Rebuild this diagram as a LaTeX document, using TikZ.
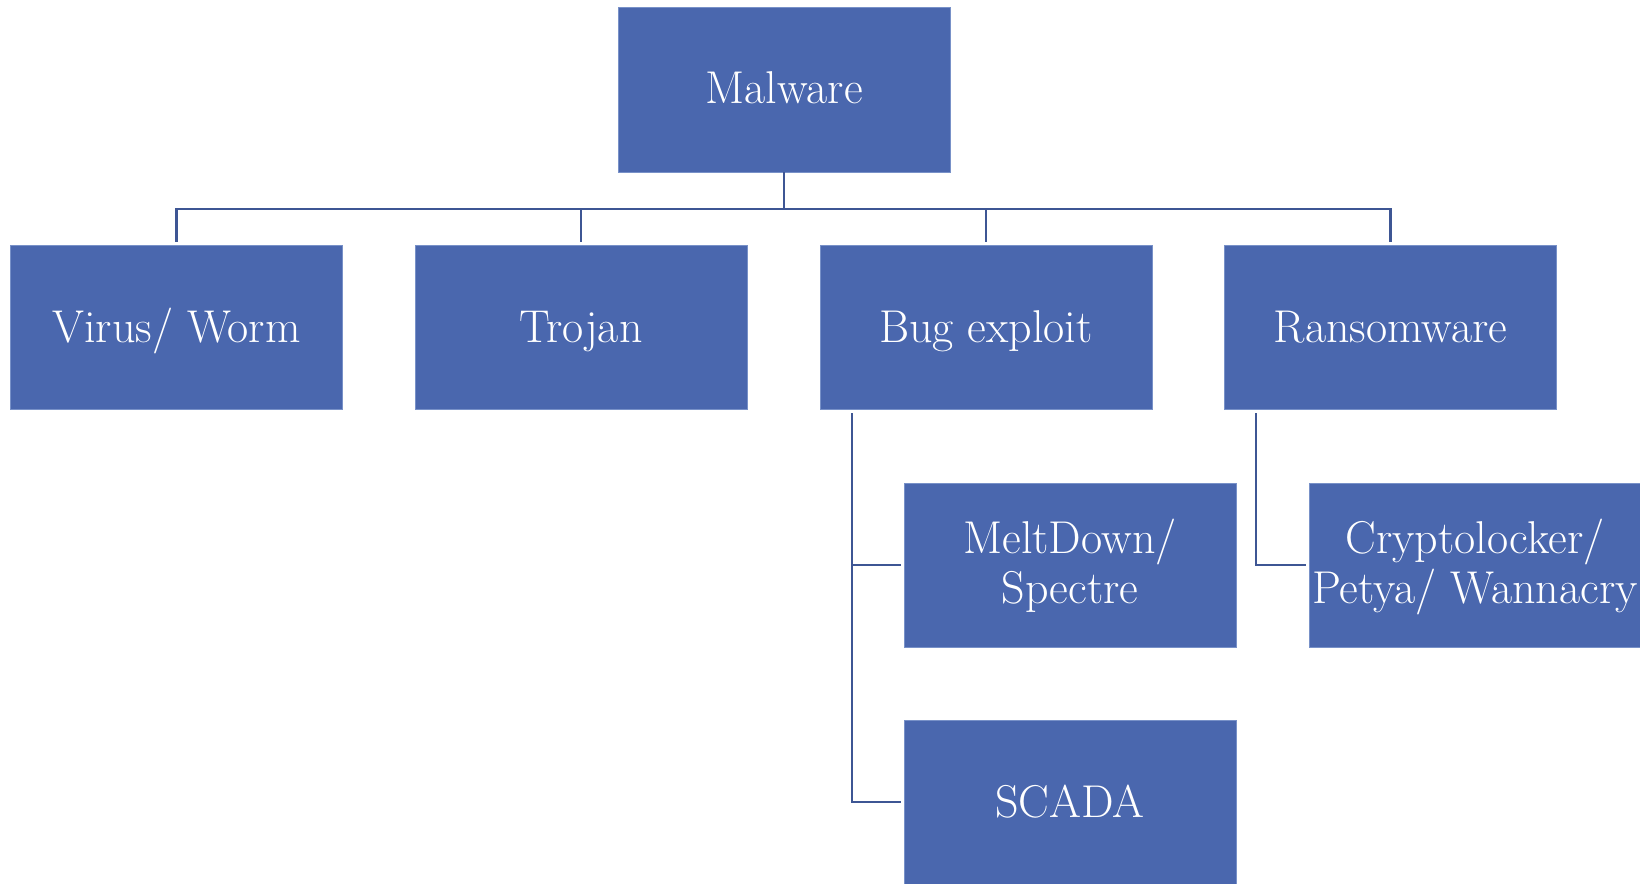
\documentclass[tikz,border=0pt]{standalone}
\usepackage{tikz}
\definecolor{boxblue}{RGB}{74,103,174}
\definecolor{boxedge}{RGB}{120,145,200}
\definecolor{linkblue}{RGB}{62,86,148}
\tikzset{
  catbox/.style={rectangle, fill=boxblue, draw=boxedge, line width=0.8pt,
    minimum width=332pt, minimum height=164pt, inner sep=0pt,
    text=white, align=center, font=\fontsize{46}{50}\selectfont,
    text height=30pt, text depth=0pt},
  % the box baseline of a two-line label sits on its last line
  twoline/.style={text height=80pt, text depth=4pt},
  link/.style={draw=linkblue, line width=2.6pt},
  sublink/.style={draw=linkblue, line width=2.2pt, shorten >=3pt}
}
\begin{document}
\begin{tikzpicture}[x=1pt, y=-1pt]
\useasboundingbox (0,0) rectangle (1640,883);
\fill[white] (0,0) rectangle (1640,883);

% top level
\node[catbox, minimum height=165pt, text height=27pt] (malware) at (784,89.5) {Malware};

% categories
\node[catbox] (virus)  at (176.5,327) {Virus/ Worm};
\node[catbox] (trojan) at (581,327)   {Trojan};
\node[catbox] (bug)    at (986,327)   {Bug exploit};
\node[catbox] (ransom) at (1390.5,327) {Ransomware};

% examples
\node[catbox, twoline] (melt)   at (1070,565)  {MeltDown/\\Spectre};
\node[catbox] (scada)  at (1070,802)  {SCADA};
\node[catbox, twoline] (crypto) at (1475,565)  {Cryptolocker/\\Petya/ Wannacry};

% tree connectors
\coordinate (bus) at (784,209);
\draw[link] (malware.south) -- (bus);
\draw[link, shorten >=3pt] (bus) -| (virus.north);
\draw[link, shorten >=3pt] (bus) -| (trojan.north);
\draw[link, shorten >=3pt] (bus) -| (bug.north);
\draw[link, shorten >=3pt] (bus) -| (ransom.north);

\coordinate (bugtap) at ([xshift=32pt, yshift=-4pt]bug.south west);
\coordinate (rantap) at ([xshift=32pt, yshift=-4pt]ransom.south west);
\draw[sublink] (bugtap) |- (melt.west);
\draw[sublink] (bugtap) |- (scada.west);
\draw[sublink] (rantap) |- (crypto.west);
\end{tikzpicture}
\end{document}
